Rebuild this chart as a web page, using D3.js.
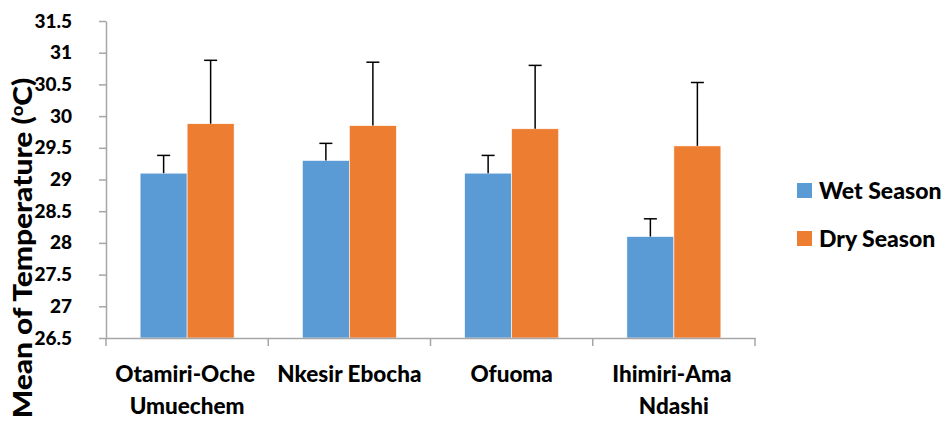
<!DOCTYPE html>
<html><head><meta charset="utf-8">
<script src="https://cdn.jsdelivr.net/npm/d3@7"></script>
<style>
body{margin:0;background:#fff;}
text{font-family:Lato,"Open Sans",sans-serif;font-weight:900;fill:#000;}
</style></head>
<body>
<svg id="chart" width="950" height="423"></svg>
<script>
const categories = [["Otamiri-Oche","Umuechem"],["Nkesir Ebocha"],["Ofuoma"],["Ihimiri-Ama","Ndashi"]];
const seriesNames = ["Wet Season","Dry Season"];
const wetValues = [29.1, 29.3, 29.1, 28.1];
const dryValues = [29.88, 29.85, 29.8, 29.53];
const wetErrors = [0.28, 0.27, 0.28, 0.28];
const dryErrors = [1.0, 1.0, 1.0, 1.0];
const yTicks = [26.5, 27, 27.5, 28, 28.5, 29, 29.5, 30, 30.5, 31, 31.5];
const colors = ["#5B9BD5", "#ED7D31"];
const yTitle = "Mean of Temperature (";

(function(){
const svg = d3.select("#chart");
const mLeft = 106, mRight = 755, mTop = 21, mBottom = 338;
const catKeys = categories.map(c => c.join(" "));
const x = d3.scaleBand().domain(catKeys).range([mLeft, mRight]).paddingInner(0).paddingOuter(0);
const xs = d3.scaleBand().domain(seriesNames).range([0, x.bandwidth()]).paddingInner(0).paddingOuter(0.726);
const y = d3.scaleLinear().domain([26.5, 31.5]).range([mBottom, mTop]);
const seriesData = [wetValues, dryValues];
const errData = [wetErrors, dryErrors];

// bars
seriesNames.forEach((s, si) => {
  svg.append("g").selectAll("rect").data(catKeys).join("rect")
    .attr("x", d => x(d) + xs(s))
    .attr("y", (d, i) => y(seriesData[si][i]))
    .attr("width", xs.bandwidth())
    .attr("height", (d, i) => y(26.5) - y(seriesData[si][i]))
    .attr("fill", colors[si])
    .attr("stroke", "#fff").attr("stroke-width", 0.6);
});
// error bars
seriesNames.forEach((s, si) => {
  const g = svg.append("g");
  catKeys.forEach((d, i) => {
    const cx = x(d) + xs(s) + xs.bandwidth() / 2;
    const v = seriesData[si][i], e = errData[si][i];
    g.append("line").attr("x1", cx).attr("x2", cx).attr("y1", y(v)).attr("y2", y(v + e))
      .attr("stroke", "#000").attr("stroke-width", 1.5);
    g.append("line").attr("x1", cx - 6.5).attr("x2", cx + 6.5).attr("y1", y(v + e)).attr("y2", y(v + e))
      .attr("stroke", "#000").attr("stroke-width", 1.5);
  });
});

// y axis
const yAxis = svg.append("g").attr("transform", `translate(${mLeft},0)`)
  .call(d3.axisLeft(y).tickValues(yTicks).tickSize(7).tickPadding(27).tickSizeOuter(0).tickFormat(d3.format("")));
yAxis.select(".domain").attr("stroke", "#a6a6a6").attr("stroke-width", 1.5);
yAxis.selectAll(".tick line").attr("stroke", "#a6a6a6").attr("stroke-width", 1.5);
yAxis.selectAll(".tick text").style("font-size", "19px").style("font-family", "Lato, sans-serif").style("font-weight", "900").attr("fill", "#000");

// x axis
const xAxis = svg.append("g").attr("transform", `translate(0,${mBottom})`)
  .call(d3.axisBottom(x).tickSize(0).tickFormat(""));
xAxis.select(".domain").attr("stroke", "#a6a6a6").attr("stroke-width", 1.5);
xAxis.selectAll(".tick").remove();
const bounds = catKeys.map(d => x(d)).concat([x(catKeys[catKeys.length - 1]) + x.bandwidth()]);
xAxis.selectAll("line.sep").data(bounds).join("line").attr("class", "sep")
  .attr("x1", d => d).attr("x2", d => d).attr("y1", 0).attr("y2", 8)
  .attr("stroke", "#a6a6a6").attr("stroke-width", 1.5);

// x labels
categories.forEach((lines, i) => {
  const cx = x(catKeys[i]) + x.bandwidth() / 2;
  lines.forEach((ln, k) => {
    svg.append("text").attr("text-anchor", "middle").style("font-size", "22.5px")
      .attr("x", cx - (k === 0 && lines.length > 1 ? 2 : 0)).attr("y", 381.5 + k * 32).text(ln);
  });
});

// y title
const yt = svg.append("text").attr("text-anchor", "middle")
  .attr("transform", `translate(32,248) rotate(-90) scale(1.15,1)`).style("font-size", "26px");
yt.append("tspan").text(yTitle);
yt.append("tspan").attr("dy", -9).style("font-size", "16px").text("o");
yt.append("tspan").attr("dy", 9).text("C)");

// legend
seriesNames.forEach((s, i) => {
  const base = 199 + i * 48;
  svg.append("rect").attr("x", 797).attr("y", base - 16).attr("width", 15).attr("height", 15).attr("fill", colors[i]);
  svg.append("text").attr("x", 819).attr("y", base).style("font-size", "23px").text(s);
});
})();
</script>
</body></html>
